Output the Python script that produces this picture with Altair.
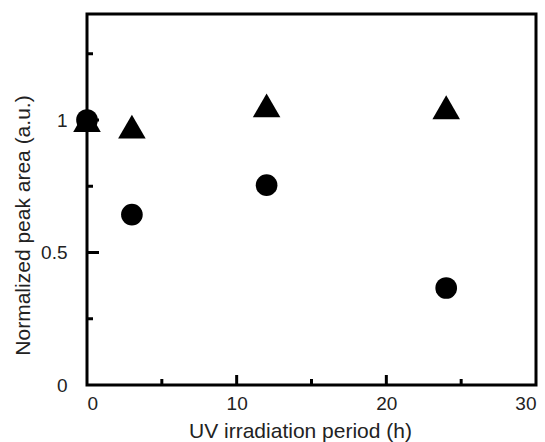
import altair as alt
import pandas as pd

hours = [0, 3, 12, 24]
circle_vals = [1.0, 0.643, 0.754, 0.366]
triangle_vals = [1.0, 0.975, 1.055, 1.048]

x_major = [10, 20]
x_minor = [5, 15, 25]
y_major = [0.5, 1.0]
y_minor = [0.25, 0.75, 1.25]

W, H = 449, 371
font = "Liberation Sans"

xs = alt.Scale(domain=[0, 30], nice=False)
ys = alt.Scale(domain=[0, 1.4], nice=False)

df_c = pd.DataFrame({"t": hours, "v": circle_vals})
df_t = pd.DataFrame({"t": hours, "v": triangle_vals})

base_axes = alt.Chart(pd.DataFrame({"t": [0], "v": [0]})).mark_point(opacity=0).encode(
    x=alt.X("t:Q", scale=xs, axis=alt.Axis(
        title="UV irradiation period (h)", values=[0, 10, 20, 30], format="d",
        ticks=False, domain=False, grid=False, labelFont=font, labelFontSize=19,
        labelColor="#222", labelPadding=9, titleFont=font, titleFontSize=21,
        titleFontWeight="normal", titleColor="#222",
        titleX=213, titleY=52, titleAlign="center", titleBaseline="alphabetic")),
    y=alt.Y("v:Q", scale=ys, axis=alt.Axis(
        title="Normalized peak area (a.u.)", values=[0, 0.5, 1],
        labelExpr="datum.value == 0 ? '0' : datum.value == 1 ? '1' : '0.5'",
        ticks=False, domain=False, grid=False, labelFont=font, labelFontSize=19,
        labelColor="#222", labelPadding=20, titleFont=font, titleFontSize=21,
        titleFontWeight="normal", titleColor="#222",
        titleX=-64, titleY=211, titleAlign="center", titleBaseline="middle", titleAngle=270)),
)

xmaj = alt.Chart(pd.DataFrame({"t": x_major})).mark_rule(color="black", strokeWidth=3).encode(
    x=alt.X("t:Q", scale=xs), y=alt.value(H), y2=alt.value(H - 10))
xmin = alt.Chart(pd.DataFrame({"t": x_minor})).mark_rule(color="black", strokeWidth=3).encode(
    x=alt.X("t:Q", scale=xs), y=alt.value(H), y2=alt.value(H - 6))
ymaj = alt.Chart(pd.DataFrame({"v": y_major})).mark_rule(color="black", strokeWidth=3).encode(
    y=alt.Y("v:Q", scale=ys), x=alt.value(0), x2=alt.value(12))
ymin = alt.Chart(pd.DataFrame({"v": y_minor})).mark_rule(color="black", strokeWidth=3).encode(
    y=alt.Y("v:Q", scale=ys), x=alt.value(0), x2=alt.value(6))

circles = alt.Chart(df_c).mark_point(shape="circle", filled=True, color="black", opacity=1, size=470).encode(
    x=alt.X("t:Q", scale=xs), y=alt.Y("v:Q", scale=ys))
triangles = alt.Chart(df_t).mark_point(shape="triangle-up", filled=True, color="black", opacity=1, size=760).encode(
    x=alt.X("t:Q", scale=xs), y=alt.Y("v:Q", scale=ys))

chart = alt.layer(base_axes, xmaj, xmin, ymaj, ymin, triangles, circles).properties(
    width=W, height=H,
    autosize=alt.AutoSizeParams(type="none"),
    padding={"left": 87, "top": 14, "right": 9, "bottom": 57},
).configure(background="white", view=alt.ViewConfig(stroke="black", strokeWidth=3))

chart.save("out.html", embed_options={"renderer": "svg", "actions": False})
